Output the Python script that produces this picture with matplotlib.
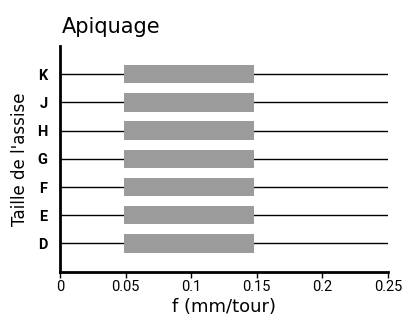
import matplotlib
matplotlib.use("Agg")
import matplotlib.pyplot as plt

categories = ["D", "E", "F", "G", "H", "J", "K"]
f_min = [0.0485, 0.0485, 0.0485, 0.0485, 0.0485, 0.0485, 0.0485]
f_max = [0.148, 0.148, 0.148, 0.148, 0.148, 0.148, 0.148]
xticks = [0, 0.05, 0.1, 0.15, 0.2, 0.25]
xticklabels = ["0", "0.05", "0.1", "0.15", "0.2", "0.25"]

plt.rcParams['font.family'] = ['DejaVu Sans']
fig = plt.figure(figsize=(4.04, 3.21), dpi=100)
ax = fig.add_axes([0.1485, 0.1536, 0.8115, 0.7034])

y = list(range(len(categories)))
for yi in y:
    ax.axhline(yi, color="black", lw=1.0, zorder=1)
widths = [b - a for a, b in zip(f_min, f_max)]
ax.barh(y, widths, left=f_min, height=0.65, color="#9b9b9b", zorder=2)

ax.set_xlim(0, 0.25)
ax.set_ylim(-1, 7)
ax.set_xticks(xticks)
ax.set_xticklabels(xticklabels, fontsize=10.5, family=["Roboto", "DejaVu Sans"])
ax.set_yticks(y)
ax.set_yticklabels(categories, fontsize=10.5, fontweight="bold", family=["Roboto", "DejaVu Sans"])
ax.tick_params(axis="y", length=0, pad=9)
ax.tick_params(axis="x", length=4, width=1, pad=2)
for s in ["top", "right"]:
    ax.spines[s].set_visible(False)
ax.spines["left"].set_linewidth(2)
ax.spines["bottom"].set_linewidth(2)
ax.set_xlabel("f (mm/tour)", fontsize=13, labelpad=3)
ax.set_ylabel("Taille de l'assise", fontsize=12, labelpad=6)
ax.set_title("Apiquage", fontsize=15, loc="left", pad=9, x=0.005)

fig.savefig("out.png", dpi=100)
